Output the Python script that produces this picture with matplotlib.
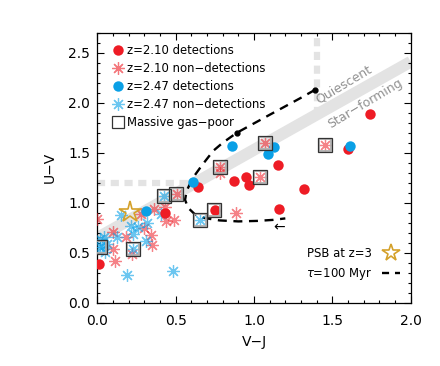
import matplotlib
matplotlib.use("Agg")
import matplotlib.pyplot as plt
from matplotlib.lines import Line2D
from matplotlib.ticker import MultipleLocator

plt.rcParams['font.family'] = ['DejaVu Sans']

# ---- data ----
z210_det_x = [0.01, 0.43, 0.64, 0.75, 0.87, 0.95, 0.97, 1.15, 1.16, 1.32, 1.60, 1.74]
z210_det_y = [0.39, 0.90, 1.16, 0.93, 1.22, 1.26, 1.18, 1.38, 0.94, 1.14, 1.54, 1.89]

z247_det_x = [0.31, 0.61, 0.86, 1.09, 1.13, 1.61]
z247_det_y = [0.92, 1.21, 1.57, 1.49, 1.56, 1.57]

z210_non_x = [0.36, 0.28, 0.44, 0.49, 0.30, 0.18, 0.10, 0.34, 0.35, 0.10, 0.22, 0.11, 0.885, 0.43,
              1.07, 1.45, 1.04, 0.78, 0.78, 0.51, 0.00]
z210_non_y = [0.94, 0.89, 0.82, 0.83, 0.75, 0.66, 0.71, 0.68, 0.58, 0.54, 0.49, 0.42, 0.90, 0.96,
              1.595, 1.58, 1.255, 1.36, 1.30, 1.085, 0.84]

z247_non_x = [0.15, 0.405, 0.217, 0.26, 0.23, 0.128, 0.043, 0.31, 0.064, 0.03, 0.05, 0.02, 0.19, 0.485,
              0.426, 0.655, 0.226, 0.02, 0.32]
z247_non_y = [0.876, 0.89, 0.77, 0.76, 0.69, 0.66, 0.66, 0.62, 0.59, 0.56, 0.51, 0.64, 0.28, 0.32,
              1.065, 0.83, 0.54, 0.56, 0.80]

gaspoor_x = [1.07, 1.45, 1.04, 0.78, 0.50, 0.426, 0.747, 0.655, 0.226, 0.02]
gaspoor_y = [1.595, 1.58, 1.255, 1.36, 1.085, 1.065, 0.93, 0.83, 0.54, 0.56]

psb_x = [0.21]
psb_y = [0.91]

track_x = [1.39, 1.30, 1.10, 0.89, 0.80, 0.74, 0.67, 0.61, 0.57, 0.56, 0.58, 0.62, 0.68, 0.78, 0.90, 1.02, 1.12, 1.20]
track_y = [2.13, 2.05, 1.88, 1.70, 1.60, 1.52, 1.38, 1.25, 1.12, 1.03, 0.95, 0.89, 0.85, 0.825, 0.815, 0.82, 0.83, 0.845]
track_dot_x = [1.39, 0.89]
track_dot_y = [2.13, 1.70]

band_x = [0.0, 2.0]
band_y = [0.65, 2.41]
hline_x = [0.0, 0.62]
hline_y = [1.2, 1.2]
vline_x = [1.40, 1.40]
vline_y = [1.88, 2.7]

RED = '#ee1c25'
BLUE = '#0aa0e6'
GOLD = '#d4a12a'
GRAY = '#e3e3e3'

fig = plt.figure(figsize=(4.4, 3.66), dpi=100)
ax = fig.add_axes([97.3/440, 1-303/366, (410.7-97.3)/440, (303-32.7)/366])

# boundaries
ax.plot(band_x, band_y, color=GRAY, lw=8.5, solid_capstyle='butt', zorder=1)
ax.plot(hline_x, hline_y, color=GRAY, lw=4.5, dashes=(1.3, 0.9), zorder=1)
ax.plot(vline_x, vline_y, color=GRAY, lw=4.5, dashes=(1.3, 0.9), zorder=1)

ast = (8, 2, 0)
ax.plot(z210_non_x, z210_non_y, ls='none', marker=ast, ms=9, mec=RED, mew=0.9, alpha=0.55, zorder=3)
ax.plot(z247_non_x, z247_non_y, ls='none', marker=ast, ms=9, mec=BLUE, mew=0.9, alpha=0.6, zorder=3)
ax.plot(z210_det_x, z210_det_y, ls='none', marker='o', ms=7.5, mfc=RED, mec='none', zorder=4)
ax.plot(z247_det_x, z247_det_y, ls='none', marker='o', ms=7.5, mfc=BLUE, mec='none', zorder=4)
# squares (gray inner + dark outer)
ax.plot(gaspoor_x, gaspoor_y, ls='none', marker='s', ms=8.8, mfc='none', mec='#b0b0b0', mew=1.3, zorder=5)
ax.plot(gaspoor_x, gaspoor_y, ls='none', marker='s', ms=10, mfc='none', mec='#333333', mew=0.9, zorder=5)
ax.plot(psb_x, psb_y, ls='none', marker='*', ms=16, mfc='none', mec=GOLD, mew=1.2, zorder=6)

# track
ax.plot(track_x, track_y, color='black', lw=1.7, dashes=(3.8, 2.8), zorder=2)
ax.plot(track_dot_x, track_dot_y, ls='none', marker='o', ms=3.5, color='black', zorder=2)
ax.text(1.16, 0.75, '←', fontsize=10, ha='center', va='center')

ax.text(1.57, 2.18, 'Quiescent', rotation=31, color='#909090', fontsize=9, ha='center', va='center', rotation_mode='anchor')
ax.text(1.71, 1.995, 'Star−forming', rotation=31, color='#909090', fontsize=9, ha='center', va='center', rotation_mode='anchor')

ax.set_xlim(0, 2.0)
ax.set_ylim(0, 2.7)
ax.xaxis.set_major_locator(MultipleLocator(0.5))
ax.xaxis.set_minor_locator(MultipleLocator(0.1))
ax.yaxis.set_major_locator(MultipleLocator(0.5))
ax.yaxis.set_minor_locator(MultipleLocator(0.1))
ax.xaxis.set_major_formatter(plt.FormatStrFormatter('%.1f'))
ax.yaxis.set_major_formatter(plt.FormatStrFormatter('%.1f'))
ax.tick_params(which='both', direction='in', top=True, right=True, labelsize=10, width=0.8)
ax.tick_params(which='major', length=5)
ax.tick_params(which='minor', length=2.5)
ax.tick_params(axis='x', which='major', pad=8)
ax.tick_params(axis='y', which='major', pad=5)
for s in ax.spines.values():
    s.set_linewidth(0.9)
ax.set_xlabel('V−J', fontsize=10, labelpad=5)
ax.set_ylabel('U−V', fontsize=10, labelpad=8)

h1 = [Line2D([], [], ls='none', marker='o', ms=7.5, mfc=RED, mec='none'),
      Line2D([], [], ls='none', marker=ast, ms=9, mec=RED, mew=0.9, alpha=0.6),
      Line2D([], [], ls='none', marker='o', ms=7.5, mfc=BLUE, mec='none'),
      Line2D([], [], ls='none', marker=ast, ms=9, mec=BLUE, mew=0.9, alpha=0.6),
      Line2D([], [], ls='none', marker='s', ms=9, mfc='none', mec='#333333', mew=0.9)]
l1 = ['z=2.10 detections', 'z=2.10 non−detections', 'z=2.47 detections', 'z=2.47 non−detections', 'Massive gas−poor']
leg1 = ax.legend(h1, l1, loc='upper left', frameon=False, fontsize=8.4, handletextpad=0.05,
                 labelspacing=0.42, borderaxespad=0.6, handlelength=1.5)
ax.add_artist(leg1)

h2 = [Line2D([], [], ls='none', marker='*', ms=13, mfc='none', mec=GOLD, mew=1.2),
      Line2D([], [], color='black', lw=1.7, dashes=(3.0, 2.5))]
l2 = ['PSB at z=3', r'$\tau$=100 Myr']
ax.legend(h2, l2, loc='lower right', frameon=False, fontsize=8.4, markerfirst=False,
          handletextpad=0.8, labelspacing=0.55, borderaxespad=0.5, handlelength=1.6,
          bbox_to_anchor=(1.0, 0.037))

fig.savefig('out.png', dpi=100)
